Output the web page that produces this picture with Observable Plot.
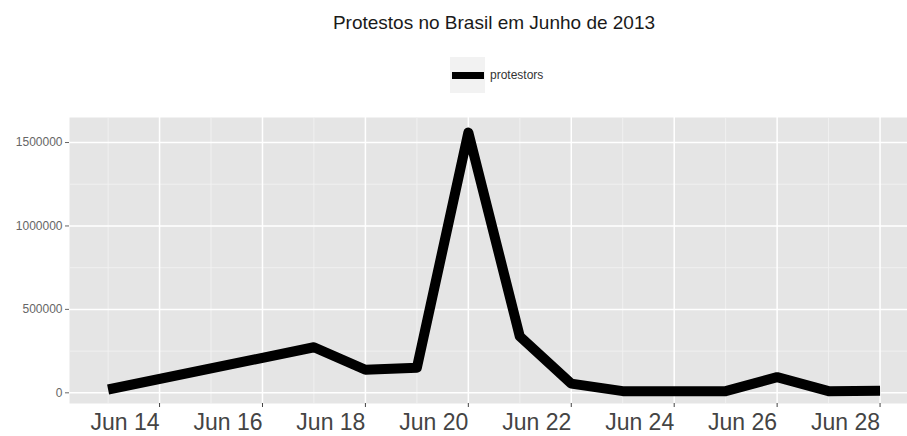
<!DOCTYPE html>
<html>
<head>
<meta charset="utf-8">
<script src="https://cdn.jsdelivr.net/npm/d3@7"></script>
<script src="https://cdn.jsdelivr.net/npm/@observablehq/plot@0.6"></script>
<style>
  html, body { margin: 0; padding: 0; background: #fff; }
  body { width: 907px; height: 436px; overflow: hidden; font-family: "Liberation Sans", Arial, sans-serif; }
  #head { position: relative; height: 110px; }
  #title { position: absolute; left: 0; width: 988px; top: 12px; text-align: center; font-size: 19px; line-height: 22px; color: #1a1a1a; }
  #key { position: absolute; left: 450px; top: 57px; width: 35px; height: 36px; background: #f2f2f2; }
  #swatch { position: absolute; left: 2px; top: 15px; width: 32px; height: 7px; background: #000; }
  #keylabel { position: absolute; left: 490px; top: 67px; font-size: 12px; line-height: 16px; color: #333; }
  svg { display: block; }
</style>
</head>
<body>
<div id="head">
  <div id="title">Protestos no Brasil em Junho de 2013</div>
  <div id="key"><div id="swatch"></div></div>
  <div id="keylabel">protestors</div>
</div>
<div id="chart"></div>
<script>
const dates = ["2013-06-13","2013-06-17","2013-06-18","2013-06-19","2013-06-20","2013-06-21","2013-06-22","2013-06-23","2013-06-25","2013-06-26","2013-06-27","2013-06-28"];
const protestors = [20000, 273000, 138000, 150000, 1560000, 338000, 55000, 10000, 10000, 94000, 10000, 12000];
const xTicks = ["2013-06-14","2013-06-16","2013-06-18","2013-06-20","2013-06-22","2013-06-24","2013-06-26","2013-06-28"];
const xTickLabels = ["Jun 14","Jun 16","Jun 18","Jun 20","Jun 22","Jun 24","Jun 26","Jun 28"];
const xMinor = ["2013-06-13","2013-06-15","2013-06-17","2013-06-19","2013-06-21","2013-06-23","2013-06-25","2013-06-27"];
const yTicks = [0, 500000, 1000000, 1500000];
const yMinor = [250000, 750000, 1250000];

const data = dates.map((d, i) => ({date: d3.isoParse(d), value: protestors[i]}));
const xt = xTicks.map(d3.isoParse);
const xm = xMinor.map(d3.isoParse);
const labelOf = new Map(xt.map((d, i) => [+d, xTickLabels[i]]));

const chart = Plot.plot({
  width: 907,
  height: 326,
  marginLeft: 69,
  marginRight: 0,
  marginTop: 7,
  marginBottom: 33,
  style: {fontFamily: '"Liberation Sans", Arial, sans-serif', background: "#fff"},
  x: {type: "utc", domain: [new Date(Date.UTC(2013,5,12,6)), new Date(Date.UTC(2013,5,28,12,48))]},
  y: {domain: [-64000, 1650000]},
  marks: [
    Plot.frame({fill: "#e5e5e5", stroke: null}),
    Plot.ruleY(yMinor, {stroke: "#f2f2f2", strokeWidth: 0.9}),
    Plot.ruleX(xm, {stroke: "#f2f2f2", strokeWidth: 0.9}),
    Plot.ruleY(yTicks, {stroke: "#fff", strokeWidth: 1.5}),
    Plot.ruleX(xt, {stroke: "#fff", strokeWidth: 1.5}),
    Plot.line(data, {x: "date", y: "value", stroke: "#000", strokeWidth: 10, strokeLinejoin: "round", strokeLinecap: "butt"}),
    Plot.axisY({ticks: yTicks, tickFormat: d => String(d), tickSize: 4, tickPadding: 3, fontSize: 12, color: "#666", label: null}),
    Plot.axisX({ticks: xt, tickFormat: d => labelOf.get(+d), tickSize: 4, tickPadding: 6, fontSize: 23, textAnchor: "end", color: "#444", label: null})
  ]
});
document.getElementById("chart").appendChild(chart);
</script>
</body>
</html>
